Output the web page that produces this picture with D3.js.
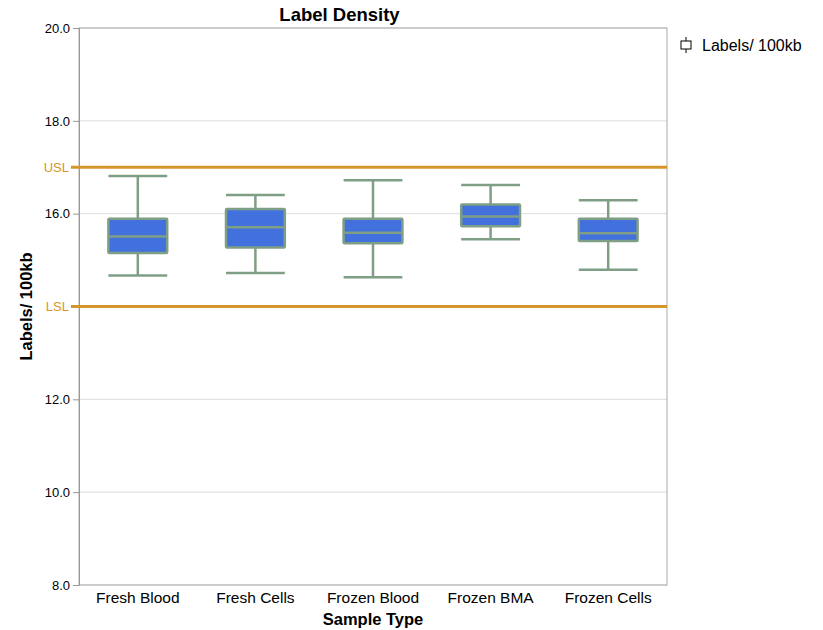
<!DOCTYPE html>
<html>
<head>
<meta charset="utf-8">
<script src="https://cdn.jsdelivr.net/npm/d3@7"></script>
<style>
  body { margin: 0; background: #fff; }
  svg { font-family: "Liberation Sans", Arial, Helvetica, sans-serif; }
</style>
</head>
<body>
<svg id="chart" width="823" height="630"></svg>
<script>
// Sample types and their label-density summaries (Labels / 100kb)
const categories = ["Fresh Blood", "Fresh Cells", "Frozen Blood", "Frozen BMA", "Frozen Cells"];
const whiskerLow  = [14.67, 14.72, 14.63, 15.45, 14.79];
const q1          = [15.15, 15.27, 15.36, 15.73, 15.41];
const medians     = [15.51, 15.71, 15.59, 15.94, 15.58];
const q3          = [15.89, 16.10, 15.89, 16.20, 15.89];
const whiskerHigh = [16.81, 16.40, 16.72, 16.62, 16.29];

const yTicks = [8, 10, 12, 14, 16, 18, 20];
const specLimits = [{ name: "USL", value: 17 }, { name: "LSL", value: 14 }];

const rows = categories.map((c, i) => ({
  cat: c, lo: whiskerLow[i], q1: q1[i], med: medians[i], q3: q3[i], hi: whiskerHigh[i]
}));

const svg = d3.select("#chart");
const margin = { left: 79, top: 28, right: 156, bottom: 45 };
const width = 823 - margin.left - margin.right;
const height = 630 - margin.top - margin.bottom;

const g = svg.append("g").attr("transform", `translate(${margin.left},${margin.top})`);

const x = d3.scaleBand().domain(categories).range([0, width]).paddingInner(0).paddingOuter(0);
const y = d3.scaleLinear().domain([8, 20]).range([height, 0]);

// Grid lines
g.append("g")
  .selectAll("line")
  .data(yTicks)
  .join("line")
  .attr("x1", 0).attr("x2", width)
  .attr("y1", d => y(d)).attr("y2", d => y(d))
  .attr("stroke", "#dddddd").attr("stroke-width", 1);

// Frame
g.append("rect")
  .attr("x", 0).attr("y", 0).attr("width", width).attr("height", height)
  .attr("fill", "none").attr("stroke", "#aaaaaa").attr("stroke-width", 1);

// Y axis
const yAxis = g.append("g")
  .call(d3.axisLeft(y).tickValues(yTicks).tickFormat(d3.format(".1f")).tickSize(6).tickPadding(3));
yAxis.select(".domain").attr("stroke", "#999");
yAxis.selectAll(".tick line").attr("stroke", "#999");
yAxis.selectAll(".tick text").attr("font-size", 13).attr("fill", "#000")
  .attr("font-family", "Liberation Sans, Arial, sans-serif");
// the LSL label takes the place of the 14.0 tick label
yAxis.selectAll(".tick").filter(d => d === 14).select("text").remove();

// X axis labels (no tick marks)
const xAxis = g.append("g")
  .attr("transform", `translate(0,${height})`)
  .call(d3.axisBottom(x).tickSize(0).tickPadding(7));
xAxis.select(".domain").remove();
xAxis.selectAll(".tick text").attr("font-size", 15.5).attr("fill", "#000")
  .attr("font-family", "Liberation Sans, Arial, sans-serif");

// Spec limit lines
const orange = "#d6952b";
const limits = g.append("g");
limits.selectAll("line")
  .data(specLimits)
  .join("line")
  .attr("x1", -8).attr("x2", width)
  .attr("y1", d => y(d.value)).attr("y2", d => y(d.value))
  .attr("stroke", orange).attr("stroke-width", 3);
limits.selectAll("text")
  .data(specLimits)
  .join("text")
  .attr("x", -10).attr("y", d => y(d.value))
  .attr("dy", "0.35em")
  .attr("text-anchor", "end")
  .attr("font-size", 13)
  .attr("fill", orange)
  .text(d => d.name);

// Box plots
const stroke = "#7f9e86";
const fill = "#4270dc";
const boxW = x.bandwidth() * 0.5;
const boxes = g.append("g").selectAll("g")
  .data(rows)
  .join("g")
  .attr("transform", d => `translate(${x(d.cat) + x.bandwidth() / 2},0)`);

boxes.append("line")
  .attr("x1", 0).attr("x2", 0)
  .attr("y1", d => y(d.hi)).attr("y2", d => y(d.lo))
  .attr("stroke", stroke).attr("stroke-width", 2.5);
boxes.append("line")
  .attr("x1", -boxW / 2).attr("x2", boxW / 2)
  .attr("y1", d => y(d.hi)).attr("y2", d => y(d.hi))
  .attr("stroke", stroke).attr("stroke-width", 2.5);
boxes.append("line")
  .attr("x1", -boxW / 2).attr("x2", boxW / 2)
  .attr("y1", d => y(d.lo)).attr("y2", d => y(d.lo))
  .attr("stroke", stroke).attr("stroke-width", 2.5);
boxes.append("rect")
  .attr("x", -boxW / 2).attr("width", boxW)
  .attr("y", d => y(d.q3)).attr("height", d => y(d.q1) - y(d.q3))
  .attr("rx", 1)
  .attr("fill", fill).attr("stroke", stroke).attr("stroke-width", 2.5);
boxes.append("line")
  .attr("x1", -boxW / 2).attr("x2", boxW / 2)
  .attr("y1", d => y(d.med)).attr("y2", d => y(d.med))
  .attr("stroke", stroke).attr("stroke-width", 2.5);

// Titles
svg.append("text")
  .attr("x", 339.5).attr("y", 21)
  .attr("text-anchor", "middle")
  .attr("font-size", 18.5).attr("font-weight", "bold")
  .text("Label Density");

svg.append("text")
  .attr("x", margin.left + width / 2).attr("y", 625)
  .attr("text-anchor", "middle")
  .attr("font-size", 16.5).attr("font-weight", "bold")
  .text("Sample Type");

svg.append("text")
  .attr("transform", `translate(32,${margin.top + height / 2}) rotate(-90)`)
  .attr("text-anchor", "middle")
  .attr("font-size", 16.5).attr("font-weight", "bold")
  .text("Labels/ 100kb");

// Legend
const legend = svg.append("g").attr("transform", "translate(686,45)");
legend.append("line").attr("x1", 0).attr("x2", 0).attr("y1", -8).attr("y2", 8)
  .attr("stroke", "#000").attr("stroke-width", 1);
legend.append("rect").attr("x", -5).attr("y", -4).attr("width", 10).attr("height", 8)
  .attr("fill", "#fff").attr("stroke", "#000").attr("stroke-width", 1);
legend.append("text").attr("x", 16).attr("y", 5.5)
  .attr("font-size", 16).text("Labels/ 100kb");
</script>
</body>
</html>
